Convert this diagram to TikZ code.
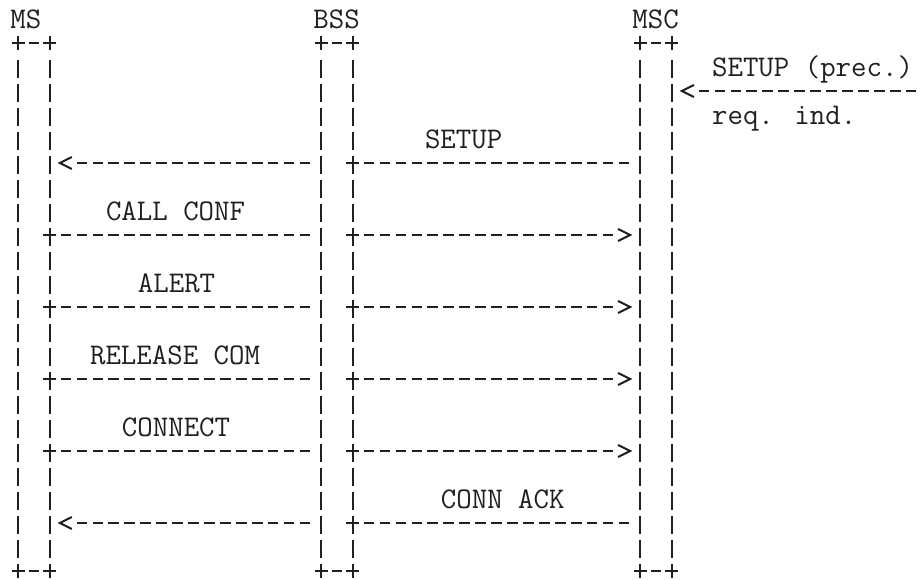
\documentclass[tikz,border=0pt]{standalone}
\usetikzlibrary{calc}
\colorlet{ink}{black!88}
\tikzset{
  lane/.style = {draw=ink, line width=2.2pt, dash pattern=on 18pt off 6pt,
    shorten <=-7pt, shorten >=-11pt},
  msg/.style = {draw=ink, line width=2.4pt, dash pattern=on 10.5pt off 5.45pt,
    shorten <=10.7pt, shorten >=10.7pt},
  head/.style = {draw=ink, line width=2pt, solid},
  lbl/.style = {text=ink, font=\fontsize{30}{30}\selectfont\ttfamily,
    inner sep=0pt, anchor=base west, xshift=-7.9pt, yshift=-9pt},
  pics/plusmark/.style = {code={\draw[head] (-6.5,0) -- (6.5,0) (0,-7) -- (0,7);}},
  pics/ltip/.style = {code={\draw[head] (6,-6) -- (-6,0) -- (6,6);}},
  pics/rtip/.style = {code={\draw[head] (-6,-6) -- (6,0) -- (-6,6);}},
}

\begin{document}
\begin{tikzpicture}[x=1pt, y=-1pt]
  \useasboundingbox (0,0) rectangle (920,579);
  % character grid
  \foreach \i in {0,...,57} \coordinate (c\i) at ({18+15.95*\i},0);
  \foreach \j in {0,...,23} \coordinate (r\j) at (0,{19+24*\j});
  % lanes
  \coordinate (msL) at (c0);  \coordinate (msR) at (c2);
  \coordinate (bssL) at (c19); \coordinate (bssR) at (c21);
  \coordinate (mscL) at (c39); \coordinate (mscR) at (c41);

  % entities
  \foreach \lft/\rgt/\n/\txt in {msL/msR/ms/MS, bssL/bssR/bss/BSS, mscL/mscR/msc/MSC} {
    \node[lbl] (\n) at (\lft |- r0) {\txt};
    \foreach \y in {r1,r23} {
      \pic at (\lft |- \y) {plusmark};
      \pic at (\rgt |- \y) {plusmark};
      \draw[msg] (\lft |- \y) -- (\rgt |- \y);
    }
    \draw[lane] (\lft |- r2) -- (\lft |- r22);
    \draw[lane] (\rgt |- r2) -- (\rgt |- r22);
  }

  % incoming setup
  \coordinate (feed) at (c57 |- r3);
  \node[lbl] (prec) at (c44 |- r2) {SETUP (prec.)};
  \node[lbl] (ind) at (c44 |- r4) {req. ind.};
  \draw[msg, shorten <=-5.25pt, shorten >=26.65pt] (feed) -- (mscR |- r3);
  \pic at (c42 |- r3) {ltip};

  % MSC to MS
  \foreach \y/\ly/\k/\txt in {r6/r5/26/SETUP, r21/r20/27/CONN ACK} {
    \node[lbl] (m\y) at (c\k |- \ly) {\txt};
    \draw[msg] (mscL |- \y) -- (bssR |- \y);
    \draw[msg, shorten >=26.65pt] (bssL |- \y) -- (msR |- \y);
    \pic at (bssR |- \y) {plusmark};
    \pic at (c3 |- \y) {ltip};
  }

  % MS to MSC
  \foreach \y/\ly/\k/\txt in {r9/r8/6/CALL CONF, r12/r11/8/ALERT,
      r15/r14/5/RELEASE COM, r18/r17/7/CONNECT} {
    \node[lbl] (m\y) at (c\k |- \ly) {\txt};
    \draw[msg] (msR |- \y) -- (bssL |- \y);
    \draw[msg, shorten >=26.65pt] (bssR |- \y) -- (mscL |- \y);
    \pic at (msR |- \y) {plusmark};
    \pic at (bssR |- \y) {plusmark};
    \pic at (c38 |- \y) {rtip};
  }
\end{tikzpicture}
\end{document}
